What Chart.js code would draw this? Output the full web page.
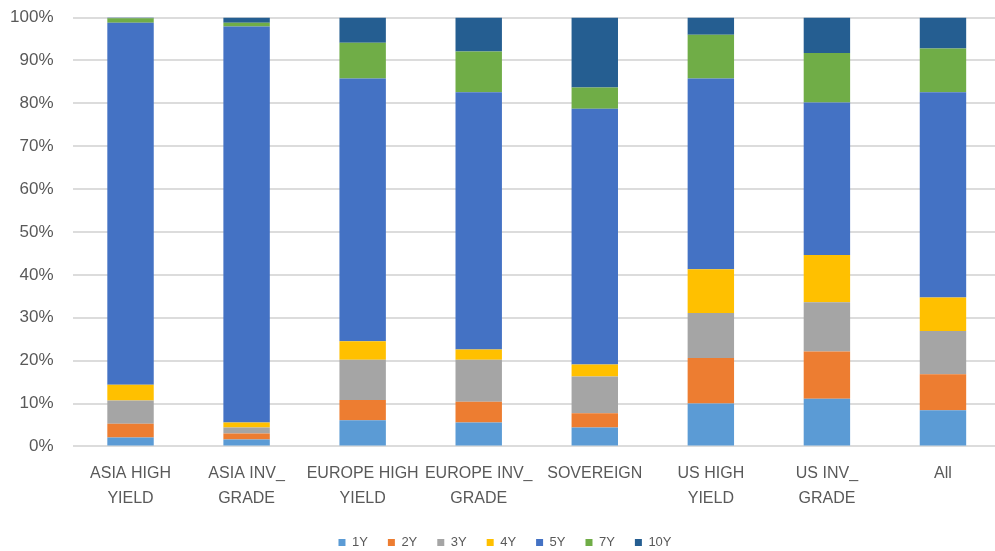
<!DOCTYPE html>
<html>
<head>
<meta charset="utf-8">
<script src="https://cdn.jsdelivr.net/npm/chart.js@4.4.1/dist/chart.umd.min.js"></script>
<style>
  html, body { margin: 0; padding: 0; background: #ffffff; overflow: hidden; }
  #wrap { position: relative; width: 1001px; height: 559px; }
</style>
</head>
<body>
<div id="wrap"><canvas id="chart"></canvas></div>
<script>
// Maturity mix by segment (share of notional, %)
const categories = [
  ['ASIA HIGH', 'YIELD'],
  ['ASIA INV_', 'GRADE'],
  ['EUROPE HIGH', 'YIELD'],
  ['EUROPE INV_', 'GRADE'],
  'SOVEREIGN',
  ['US HIGH', 'YIELD'],
  ['US INV_', 'GRADE'],
  'All'
];

const tenors = ['1Y', '2Y', '3Y', '4Y', '5Y', '7Y', '10Y'];

const y1  = [2.1, 1.6, 6.1, 5.6, 4.4, 10.0, 11.1, 8.4];
const y2  = [3.2, 1.4, 4.7, 4.8, 3.3, 10.6, 11.0, 8.4];
const y3  = [5.4, 1.4, 9.4, 9.8, 8.6, 10.5, 11.5, 10.1];
const y4  = [3.7, 1.2, 4.3, 2.4, 2.8, 10.2, 11.0, 7.8];
const y5  = [84.4, 92.3, 61.3, 60.0, 59.6, 44.5, 35.6, 47.9];
const y7  = [1.0, 0.9, 8.3, 9.5, 5.0, 10.2, 11.5, 10.2];
const y10 = [0.2, 1.2, 5.9, 7.9, 16.3, 4.0, 8.3, 7.2];

const yTicks = [0, 10, 20, 30, 40, 50, 60, 70, 80, 90, 100];

const seriesValues = [y1, y2, y3, y4, y5, y7, y10];
const colors = ['#5B9BD5', '#ED7D31', '#A5A5A5', '#FFC000', '#4472C4', '#70AD47', '#255E91'];

const datasets = tenors.map((name, i) => ({
  label: name,
  data: seriesValues[i],
  backgroundColor: colors[i],
  borderWidth: 0,
  categoryPercentage: 0.8,
  barPercentage: 0.5
}));

const FONT = "'Liberation Sans', Arial, sans-serif";
const TEXT = '#595959';

new Chart(document.getElementById('chart'), {
  type: 'bar',
  data: { labels: categories, datasets },
  options: {
    responsive: true,
    maintainAspectRatio: false,
    animation: false,
    layout: { padding: { left: 9, right: 0, top: 17.5, bottom: 0 } },
    plugins: {
      tooltip: { enabled: false },
      legend: {
        position: 'bottom',
        labels: {
          boxWidth: 7,
          boxHeight: 7,
          padding: 20,
          color: TEXT,
          font: { family: FONT, size: 13 }
        }
      }
    },
    scales: {
      x: {
        stacked: true,
        grid: { display: false, drawTicks: false },
        border: { display: false },
        afterFit: (scale) => {
          scale.height = 69.6;
          scale.paddingTop = 0;
          scale.paddingBottom = 0;
        },
        ticks: {
          color: TEXT,
          font: { family: FONT, size: 16, lineHeight: 1.55 },
          padding: 15,
          maxRotation: 0,
          minRotation: 0,
          autoSkip: false
        }
      },
      y: {
        stacked: true,
        min: 0,
        max: 100,
        afterBuildTicks: (axis) => { axis.ticks = yTicks.map(v => ({ value: v })); },
        afterFit: (scale) => {
          scale.width = 63.5;
          scale.paddingTop = 0;
          scale.paddingBottom = 0;
        },
        grid: { color: '#dcdcdc', lineWidth: 2, drawTicks: false },
        border: { display: false },
        ticks: {
          color: TEXT,
          font: { family: FONT, size: 17 },
          padding: 19,
          callback: (v) => v + '%'
        }
      }
    }
  }
});
</script>
</body>
</html>
